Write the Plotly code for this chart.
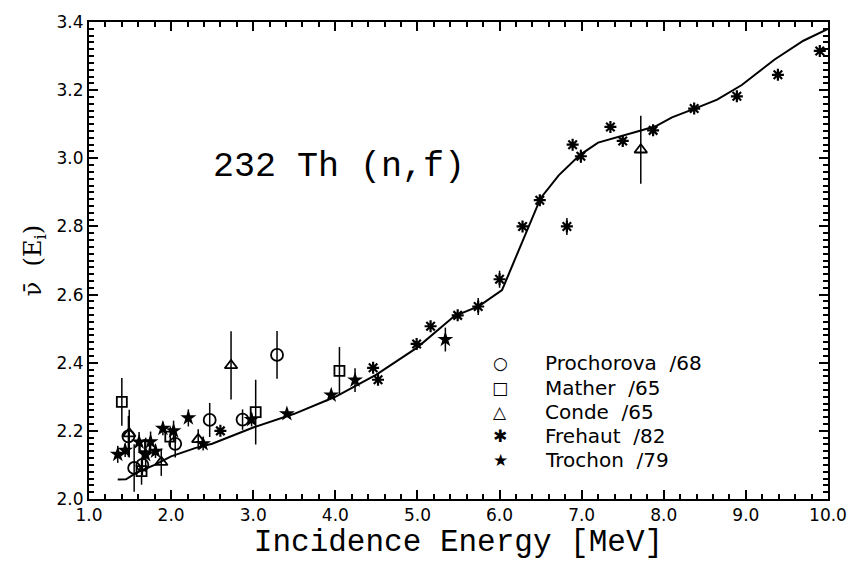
import plotly.graph_objects as go

# ---------------- data ----------------
curve_e = [1.35, 1.45, 1.6, 1.8, 2.0, 2.3, 2.5, 3.0, 3.5, 4.0, 4.5, 5.0, 5.45, 5.75, 6.03,
           6.29, 6.5, 6.72, 6.98, 7.2, 7.45, 7.7, 7.9, 8.1, 8.4, 8.65, 8.95, 9.35, 9.7, 10.0]
curve_nu = [2.057, 2.058, 2.08, 2.10, 2.125, 2.15, 2.162, 2.21, 2.25, 2.30, 2.365, 2.445, 2.537, 2.566, 2.613,
            2.76, 2.883, 2.95, 3.01, 3.046, 3.062, 3.08, 3.094, 3.12, 3.148, 3.172, 3.215, 3.29, 3.345, 3.38]

proch_e = [1.48, 1.55, 1.65, 2.05, 2.47, 2.87, 3.29]
proch_nu = [2.184, 2.091, 2.100, 2.162, 2.232, 2.233, 2.423]
proch_err = [0.06, 0.07, 0.03, 0.04, 0.05, 0.03, 0.07]

mather_e = [1.40, 1.64, 1.68, 1.99, 3.03, 4.05]
mather_nu = [2.285, 2.082, 2.155, 2.183, 2.255, 2.376]
mather_err = [0.07, 0.04, 0.02, 0.03, 0.095, 0.07]

conde_e = [1.49, 1.88, 2.33, 2.73, 7.72]
conde_nu = [2.192, 2.108, 2.175, 2.392, 3.025]
conde_err = [0.07, 0.04, 0.03, 0.10, 0.10]

freh_e = [2.60, 4.46, 4.52, 4.99, 5.16, 5.49, 5.74, 6.00, 6.28, 6.49, 6.82, 6.89, 6.99,
          7.35, 7.50, 7.87, 8.37, 8.89, 9.39, 9.90]
freh_nu = [2.200, 2.385, 2.350, 2.455, 2.507, 2.539, 2.565, 2.645, 2.800, 2.877, 2.800, 3.040, 3.006,
           3.092, 3.051, 3.082, 3.146, 3.182, 3.245, 3.315]
freh_err = [0.0, 0.0, 0.015, 0.0, 0.0, 0.0, 0.025, 0.025, 0.0, 0.015, 0.025, 0.0, 0.02,
            0.0, 0.015, 0.0, 0.0, 0.0, 0.01, 0.01]

troch_e = [1.35, 1.44, 1.61, 1.69, 1.75, 1.81, 1.90, 2.03, 2.21, 2.39, 2.98, 3.41, 3.95, 4.24, 5.34]
troch_nu = [2.131, 2.143, 2.167, 2.130, 2.168, 2.140, 2.207, 2.200, 2.238, 2.162, 2.233, 2.250, 2.305, 2.349, 2.468]
troch_err = [0.025, 0.02, 0.03, 0.05, 0.03, 0.02, 0.02, 0.03, 0.025, 0.02, 0.02, 0.0, 0.0, 0.035, 0.035]

x_tick_vals = [1, 2, 3, 4, 5, 6, 7, 8, 9, 10]
x_tick_text = ["1.0", "2.0", "3.0", "4.0", "5.0", "6.0", "7.0", "8.0", "9.0", "10.0"]
y_tick_vals = [2.0, 2.2, 2.4, 2.6, 2.8, 3.0, 3.2, 3.4]
y_tick_text = ["2.0", "2.2", "2.4", "2.6", "2.8", "3.0", "3.2", "3.4"]

legend_names = ["Prochorova  /68", "Mather  /65", "Conde  /65", "Frehaut  /82", "Trochon  /79"]
legend_glyphs = ["○", "□", "△", "✱", "★"]

# ---------------- figure ----------------
fig = go.Figure()

fig.add_trace(go.Scatter(x=curve_e, y=curve_nu, mode="lines", name="evaluation",
                         line=dict(color="black", width=2), showlegend=False))

def err(v):
    return dict(type="data", array=v, visible=True, color="black", thickness=1.5, width=0)

fig.add_trace(go.Scatter(x=proch_e, y=proch_nu, mode="markers", name="Prochorova /68",
                         error_y=err(proch_err), showlegend=False,
                         marker=dict(symbol="circle-open", size=12, color="black", line=dict(width=1.8))))
fig.add_trace(go.Scatter(x=mather_e, y=mather_nu, mode="markers", name="Mather /65",
                         error_y=err(mather_err), showlegend=False,
                         marker=dict(symbol="square-open", size=10, color="black", line=dict(width=1.8))))
fig.add_trace(go.Scatter(x=conde_e, y=conde_nu, mode="markers", name="Conde /65",
                         error_y=err(conde_err), showlegend=False,
                         marker=dict(symbol="triangle-up-open", size=11, color="black", line=dict(width=1.8))))
fig.add_trace(go.Scatter(x=freh_e, y=freh_nu, mode="markers", name="Frehaut /82",
                         error_y=err(freh_err), showlegend=False,
                         marker=dict(symbol="asterisk-open", size=10, color="black", line=dict(width=2.2, color="black"))))
fig.add_trace(go.Scatter(x=troch_e, y=troch_nu, mode="markers", name="Trochon /79",
                         error_y=err(troch_err), showlegend=False,
                         marker=dict(symbol="star", size=12, color="black", line=dict(width=0))))
# invisible trace to activate the overlay axes that carry the major ticks
fig.add_trace(go.Scatter(x=[curve_e[0]], y=[curve_nu[0]], xaxis="x2", yaxis="y2", mode="markers",
                         marker=dict(opacity=0), hoverinfo="skip", showlegend=False))

# legend drawn as text
leg_y = [0.2845, 0.2337, 0.183, 0.1322, 0.0814]
for g, n, yy in zip(legend_glyphs, legend_names, leg_y):
    fig.add_annotation(xref="paper", yref="paper", x=0.5566, y=yy, text=g, showarrow=False,
                       xanchor="center", yanchor="middle",
                       font=dict(family="DejaVu Sans", size=17, color="black"))
    fig.add_annotation(xref="paper", yref="paper", x=0.614, y=yy, text=n, showarrow=False,
                       xanchor="left", yanchor="middle",
                       font=dict(family="DejaVu Sans", size=20, color="black"))

fig.add_annotation(xref="x", yref="y", x=4.04, y=2.973, text="232 Th (n,f)", showarrow=False,
                   xanchor="center", yanchor="middle",
                   font=dict(family="Liberation Mono", size=35, color="black"))

x_minor = [round(1.0 + 0.2 * i, 2) for i in range(46) if i % 5 != 0]
y_minor = [round(2.0 + 0.02 * i, 3) for i in range(71) if i % 10 != 0]

tick_style = dict(ticks="inside", ticklen=9, tickwidth=2, tickcolor="black", mirror="ticks",
                  showline=True, linecolor="black", linewidth=2, showgrid=False, zeroline=False)

fig.update_layout(
    xaxis=dict(range=[1.0, 10.0], tickmode="array", tickvals=x_tick_vals, ticktext=x_tick_text,
               tickfont=dict(family="DejaVu Sans", size=17, color="black"),
               minor=dict(tickvals=x_minor, ticks="inside", ticklen=5, tickcolor="black", tickwidth=1.5),
               title=dict(text="Incidence Energy [MeV]", standoff=2,
                          font=dict(family="Liberation Mono", size=31, color="black")),
               **tick_style),
    yaxis=dict(range=[2.0, 3.4], tickmode="array", tickvals=y_tick_vals, ticktext=y_tick_text,
               tickfont=dict(family="DejaVu Sans", size=17, color="black"),
               minor=dict(tickvals=y_minor, ticks="inside", ticklen=5, tickcolor="black", tickwidth=1.5),
               title=dict(text="ν\u0304  (E<sub>i</sub>)", standoff=8,
                          font=dict(family="DejaVu Serif", size=24, color="black")),
               **tick_style),
    xaxis2=dict(range=[1.0, 10.0], overlaying="x", side="bottom", anchor="y2", tickmode="array",
                tickvals=x_tick_vals, showticklabels=False, **tick_style),
    yaxis2=dict(range=[2.0, 3.4], overlaying="y", side="left", anchor="x2", tickmode="array",
                tickvals=y_tick_vals, showticklabels=False, **tick_style),
)

fig.update_layout(width=859, height=561, margin=dict(l=89, r=19, t=15, b=54),
                  plot_bgcolor="white", paper_bgcolor="white", showlegend=False)

fig.write_html("out.html")
